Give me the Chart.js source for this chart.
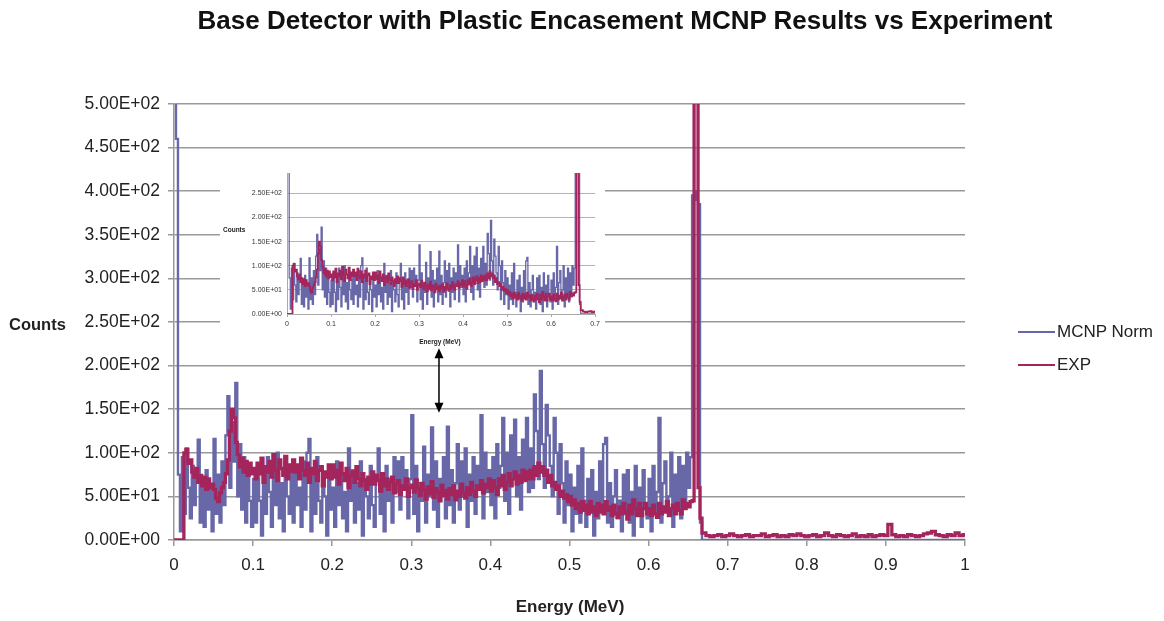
<!DOCTYPE html>
<html>
<head>
<meta charset="utf-8">
<script src="https://cdn.jsdelivr.net/npm/chart.js@4"></script>
<style>
  body { margin: 0; background: #fff; font-family: 'Liberation Sans', Arial, sans-serif; color: #222; }
  #wrap { position: relative; width: 1164px; height: 621px; overflow: hidden; background: #fff; }
  .lbl { position: absolute; white-space: nowrap; }
  #inset { position: absolute; left: 220px; top: 155px; width: 385px; height: 192px; background: #fff; }
  .swatch { position: absolute; width: 37px; height: 0; border-top: 2.5px solid; }
</style>
</head>
<body>
<div id="wrap">
  <canvas id="mainChart" width="1164" height="621"></canvas>
  <div class="lbl" style="left:0;width:1250px;top:5px;text-align:center;font-weight:bold;font-size:26px;line-height:30px;color:#111">Base Detector with Plastic Encasement MCNP Results vs Experiment</div>
  <div class="lbl" style="left:9px;top:314px;font-weight:bold;font-size:16.5px;line-height:20px">Counts</div>
  <div class="lbl" style="left:470px;width:200px;top:597px;text-align:center;font-weight:bold;font-size:17px;line-height:20px">Energy (MeV)</div>
  <div class="swatch" style="left:1018px;top:331px;border-color:#6868a8"></div>
  <div class="lbl" style="left:1057px;top:322px;font-size:17px;line-height:20px">MCNP Norm</div>
  <div class="swatch" style="left:1018px;top:364px;border-color:#a3255c"></div>
  <div class="lbl" style="left:1057px;top:355px;font-size:17px;line-height:20px">EXP</div>
  <div id="inset">
    <canvas id="insetChart" width="385" height="192"></canvas>
    <div class="lbl" style="left:3px;top:71px;font-weight:bold;font-size:6.5px;line-height:8px">Counts</div>
    <div class="lbl" style="left:170px;width:100px;top:183px;text-align:center;font-weight:bold;font-size:6.5px;line-height:8px">Energy (MeV)</div>
  </div>
</div>
<script>
// channel widths (MeV)
var binWidth = 0.0025;     // 0 .. 0.665
var tailStart = 0.6675;
var tailWidth = 0.005;     // 0.6675 .. 1.0

// MCNP Norm, 0 - 0.665 MeV, one row per 0.05 MeV
var mcnpLow = [
  520, 460, 75, 10, 95, 30, 105, 60, 25, 85, 40, 70, 115, 20, 65, 15, 80, 35, 60, 10,
  116, 30, 75, 20, 90, 40, 120, 165, 60, 135, 90, 180, 50, 110, 35, 95, 20, 80, 45, 15,
  70, 20, 85, 45, 5, 75, 30, 95, 55, 15, 80, 40, 100, 25, 65, 10, 90, 50, 30, 75,
  20, 85, 40, 60, 15, 90, 35, 100, 116, 10, 80, 30, 95, 45, 20, 70, 50, 5, 85, 35,
  60, 15, 90, 40, 75, 25, 55, 10, 105, 45, 80, 20, 65, 35, 90, 5, 70, 50, 25, 85,
  40, 15, 75, 105, 30, 60, 10, 85, 45, 70, 20, 95, 55, 90, 35, 95, 60, 80, 25, 70,
  143, 30, 85, 10, 65, 45, 107, 20, 75, 50, 129, 35, 90, 15, 70, 55, 95, 25, 130, 40,
  80, 20, 65, 110, 35, 90, 50, 105, 15, 75, 45, 95, 30, 85, 60, 143, 25, 100, 55, 80,
  40, 95, 25, 110, 60, 85, 140, 45, 100, 30, 120, 70, 138, 50, 95, 35, 115, 75, 140, 55,
  105, 60, 167, 125, 70, 194, 110, 60, 155, 120, 85, 50, 140, 100, 30, 110, 65, 20, 90, 40,
  75, 10, 60, 30, 85, 20, 105, 45, 15, 70, 35, 80, 5, 55, 25, 90, 40, 110, 117, 20,
  65, 15, 50, 80, 25, 45, 10, 75, 30, 80, 20, 55, 5, 85, 35, 60, 15, 80, 40, 25,
  70, 10, 85, 30, 55, 140, 20, 65, 90, 35, 50, 100, 15, 75, 45, 95, 25, 85, 40, 100,
  60, 95, 395, 400, 390, 385, 20
];

// EXP, 0 - 0.665 MeV
var expLow = [
  0, 0, 0, 0, 0, 100, 104, 88, 92, 78, 72, 82, 66, 74, 62, 72, 58, 70, 60, 64,
  58, 48, 44, 54, 60, 66, 76, 92, 125, 150, 140, 112, 98, 84, 94, 78, 90, 74, 88, 76,
  82, 70, 88, 76, 94, 66, 84, 78, 90, 72, 98, 80, 68, 92, 82, 74, 96, 70, 86, 78,
  92, 78, 86, 70, 94, 80, 74, 88, 66, 82, 76, 90, 68, 80, 84, 62, 78, 72, 86, 70,
  86, 72, 80, 64, 88, 76, 68, 82, 60, 74, 78, 66, 84, 70, 62, 76, 68, 58, 72, 64,
  78, 64, 74, 68, 56, 76, 62, 70, 58, 66, 72, 54, 64, 68, 52, 62, 58, 70, 50, 60,
  63, 55, 69, 59, 51, 65, 57, 47, 61, 53, 67, 49, 59, 55, 45, 63, 51, 57, 47, 59,
  52, 62, 46, 56, 50, 64, 54, 48, 60, 52, 66, 56, 50, 62, 58, 68, 54, 64, 60, 70,
  56, 68, 60, 52, 70, 62, 74, 58, 66, 76, 62, 70, 78, 64, 74, 66, 80, 68, 78, 70,
  80, 70, 84, 74, 88, 78, 84, 74, 80, 66, 74, 62, 66, 58, 62, 50, 56, 48, 52, 44,
  50, 40, 46, 36, 42, 32, 44, 34, 40, 30, 44, 32, 38, 28, 42, 32, 40, 30, 44, 34,
  38, 28, 40, 30, 26, 38, 30, 42, 32, 24, 40, 30, 46, 36, 28, 42, 28, 36, 42, 30,
  36, 28, 40, 30, 26, 42, 30, 38, 32, 44, 28, 36, 40, 30, 42, 34, 30, 46, 36, 42,
  38, 44, 45, 600, 600, 60, 25
];

// 0.6675 - 1.0 MeV
var mcnpTail = [
  0, 0, 0, 0, 0, 0, 0, 0, 0, 0,
  0, 0, 0, 0, 0, 0, 0, 0, 0, 0,
  0, 0, 0, 0, 0, 0, 0, 0, 0, 0,
  0, 0, 0, 0, 0, 0, 0, 0, 0, 0,
  0, 0, 0, 0, 0, 0, 0, 0, 0, 0,
  0, 0, 0, 0, 0, 0, 0, 0, 0, 0,
  0, 0, 0, 0, 0, 0, 0, 0
];
var expTail = [
  8, 5, 4, 5, 6, 4, 5, 7, 5, 4,
  5, 6, 4, 5, 5, 7, 4, 5, 6, 4,
  5, 4, 6, 5, 7, 5, 4, 5, 6, 4,
  5, 8, 5, 4, 6, 5, 4, 5, 7, 4,
  5, 4, 6, 4, 5, 6, 5, 18, 6, 4,
  5, 4, 6, 5, 4, 5, 7, 8, 10, 6,
  5, 4, 6, 5, 8, 5, 6, 5
];

// double arrow between inset and main plot (energy, counts)
var arrowAt = 0.335, arrowFrom = 220, arrowTo = 146;

var MCNP_COLOR = '#6868a8';
var EXP_COLOR = '#a3255c';
var FONT = "'Liberation Sans', Arial, sans-serif";

function spectrum(low, tail) {
    var pts = [];
    for (var i = 0; i < low.length; i++) pts.push({ x: i * binWidth, y: low[i] });
    for (var k = 0; k < tail.length; k++) pts.push({ x: tailStart + k * tailWidth, y: tail[k] });
    return pts;
}

function sci(v) {
    if (v === 0) return '0.00E+00';
    var e = Math.floor(Math.log10(Math.abs(v)));
    var m = v / Math.pow(10, e);
    return m.toFixed(2) + 'E' + (e < 0 ? '-' : '+') + (Math.abs(e) < 10 ? '0' : '') + Math.abs(e);
}

function keepFifties(scale) {
    scale.ticks = scale.ticks.filter(function(t) { return t.value % 50 === 0; });
}

var arrowPlugin = {
    id: 'arrow',
    afterDraw: function(chart) {
        var ctx = chart.ctx;
        var x = chart.scales.x.getPixelForValue(arrowAt);
        var y1 = chart.scales.y.getPixelForValue(arrowFrom);
        var y2 = chart.scales.y.getPixelForValue(arrowTo);
        ctx.save();
        ctx.strokeStyle = '#000';
        ctx.fillStyle = '#000';
        ctx.lineWidth = 1.5;
        ctx.beginPath();
        ctx.moveTo(x, y1 + 8);
        ctx.lineTo(x, y2 - 8);
        ctx.stroke();
        ctx.beginPath();
        ctx.moveTo(x, y1); ctx.lineTo(x - 4.5, y1 + 10); ctx.lineTo(x + 4.5, y1 + 10); ctx.closePath();
        ctx.fill();
        ctx.beginPath();
        ctx.moveTo(x, y2); ctx.lineTo(x - 4.5, y2 - 10); ctx.lineTo(x + 4.5, y2 - 10); ctx.closePath();
        ctx.fill();
        ctx.restore();
    }
};

function datasets(mcnpWidth, expWidth) {
    return [
        { label: 'EXP', data: spectrum(expLow, expTail), borderColor: EXP_COLOR, borderWidth: expWidth,
          stepped: true, pointRadius: 0, fill: false },
        { label: 'MCNP Norm', data: spectrum(mcnpLow, mcnpTail), borderColor: MCNP_COLOR, borderWidth: mcnpWidth,
          stepped: true, pointRadius: 0, fill: false }
    ];
}

new Chart(document.getElementById('mainChart'), {
    type: 'line',
    data: { datasets: datasets(2.4, 3.3) },
    options: {
        responsive: false, animation: false, events: [],
        layout: { padding: { left: 0, right: 199, top: 104, bottom: 0 } },
        plugins: { legend: { display: false }, tooltip: { enabled: false } },
        scales: {
            x: {
                type: 'linear', min: 0, max: 1,
                afterFit: function(s) { s.height = 81; },
                grid: { drawOnChartArea: false, drawTicks: true, tickLength: 6, color: '#999', lineWidth: 1.5 },
                border: { color: '#999', width: 1.5 },
                ticks: { stepSize: 0.1, padding: 9, color: '#222', font: { family: FONT, size: 17 },
                    callback: function(v) { return String(Number(v.toFixed(1))); } }
            },
            y: {
                min: 0, max: 500,
                afterFit: function(s) { s.width = 174; },
                grid: { color: '#999', lineWidth: 1.5, tickLength: 6 },
                border: { color: '#999', width: 1.5 },
                ticks: { stepSize: 50, padding: 8, color: '#222', font: { family: FONT, size: 17.5 },
                    callback: function(v) { return sci(v); } }
            }
        }
    },
    plugins: [arrowPlugin]
});

new Chart(document.getElementById('insetChart'), {
    type: 'line',
    data: { datasets: datasets(1.3, 1.8) },
    options: {
        responsive: false, animation: false, events: [],
        layout: { padding: { left: 0, right: 10, top: 18, bottom: 0 } },
        plugins: { legend: { display: false }, tooltip: { enabled: false } },
        scales: {
            x: {
                type: 'linear', min: 0, max: 0.7,
                afterFit: function(s) { s.height = 33; },
                grid: { drawOnChartArea: false, drawTicks: true, tickLength: 3, color: '#aaa' },
                border: { color: '#aaa' },
                ticks: { stepSize: 0.1, padding: 3, color: '#333', font: { family: FONT, size: 7 },
                    callback: function(v) { return String(Number(v.toFixed(1))); } }
            },
            y: {
                min: 0, max: 292,
                afterFit: function(s) { s.width = 67; },
                afterBuildTicks: keepFifties,
                grid: { color: '#b4b4b4', drawTicks: false },
                border: { color: '#aaa' },
                ticks: { stepSize: 50, padding: 5, color: '#333', font: { family: FONT, size: 7 },
                    callback: function(v) { return sci(v); } }
            }
        }
    }
});
</script>
</body>
</html>
